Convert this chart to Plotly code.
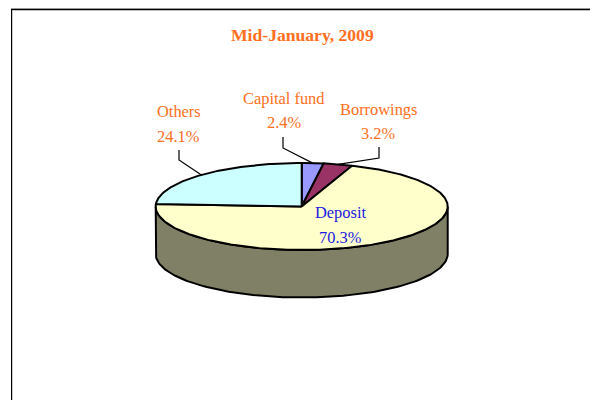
import numpy as np
import plotly.graph_objects as go

# Data (clockwise from 12 o'clock)
categories = ["Capital fund", "Borrowings", "Deposit", "Others"]
shares = [2.4, 3.2, 70.3, 24.1]
slice_colors = ["#9999FF", "#993366", "#FFFFCC", "#CCFFFF"]
label_colors = ["#FF6F21", "#FF6F21", "#1A1AE0", "#FF6F21"]
title_text = "Mid-January, 2009"

# Layout (pixels)
W, H = 590, 400
CX, CY, RX, RY, DEPTH = 301.7, 206.5, 146.0, 43.5, 47.5
WALL = "#808066"
FONT = "Liberation Serif"
label_pos = {
    "Capital fund": (283.5, 98, 122),
    "Borrowings": (378, 109, 133),
    "Deposit": (340.5, 212, 237),
    "Others": (178.5, 111, 136),
}
leader_elbows = {
    "Capital fund": [(283, 137), (283, 148)],
    "Borrowings": [(379, 147), (379, 158)],
    "Others": [(179, 150), (179, 160)],
}


def ell(a):
    return CX + RX * np.sin(a), CY - RY * np.cos(a)


fig = go.Figure()

# side wall (front half of the rim extruded)
t = np.linspace(np.pi / 2, 3 * np.pi / 2, 121)
x, y = ell(t)
fig.add_trace(go.Scatter(
    x=np.r_[x, x[::-1], x[0]], y=np.r_[y, y[::-1] + DEPTH, y[0]],
    mode="lines", fill="toself", fillcolor=WALL,
    line=dict(color="black", width=2), hoverinfo="skip", showlegend=False))

# top surface slices
cum = np.cumsum([0] + shares) / sum(shares) * 2 * np.pi
for i, cat in enumerate(categories):
    a = np.linspace(cum[i], cum[i + 1], max(3, int(shares[i] * 4)))
    x, y = ell(a)
    fig.add_trace(go.Scatter(
        x=np.r_[CX, x, CX], y=np.r_[CY, y, CY],
        mode="lines", fill="toself", fillcolor=slice_colors[i],
        line=dict(color="black", width=2), name=cat, showlegend=False,
        hovertemplate=f"{cat}: {shares[i]}%<extra></extra>"))

# leader lines from slice mid-points
for i, cat in enumerate(categories):
    if cat in leader_elbows:
        mx, my = ell((cum[i] + cum[i + 1]) / 2)
        pts = leader_elbows[cat] + [(float(mx), float(my))]
        fig.add_trace(go.Scatter(
            x=[p[0] for p in pts], y=[p[1] for p in pts], mode="lines",
            line=dict(color="black", width=1.2), hoverinfo="skip", showlegend=False))

# labels
annotations = [dict(x=302.5, y=35, text=f"<b>{title_text}</b>", showarrow=False,
                    xref="x", yref="y", font=dict(family=FONT, size=17.6, color="#FF6F21"))]
for i, cat in enumerate(categories):
    lx, y1, y2 = label_pos[cat]
    for yy, txt in ((y1, cat), (y2, f"{shares[i]}%")):
        annotations.append(dict(x=lx, y=yy, text=txt, showarrow=False, xref="x", yref="y",
                                font=dict(family=FONT, size=16.4, color=label_colors[i])))

# frame
shapes = [
    dict(type="line", x0=11, x1=W, y0=8.5, y1=8.5, line=dict(color="#999999", width=1)),
    dict(type="line", x0=11, x1=W, y0=9.6, y1=9.6, line=dict(color="black", width=1.3)),
    dict(type="line", x0=11.6, x1=11.6, y0=9, y1=H, line=dict(color="black", width=1.2)),
]

fig.update_layout(
    width=W, height=H, margin=dict(l=0, r=0, t=0, b=0),
    paper_bgcolor="white", plot_bgcolor="white", showlegend=False,
    xaxis=dict(range=[0, W], visible=False, fixedrange=True),
    yaxis=dict(range=[H, 0], visible=False, fixedrange=True),
    annotations=annotations, shapes=shapes)

fig.write_html("out.html", config={"displayModeBar": False},
               post_script="document.body.style.margin='0';document.body.style.overflow='hidden';")
